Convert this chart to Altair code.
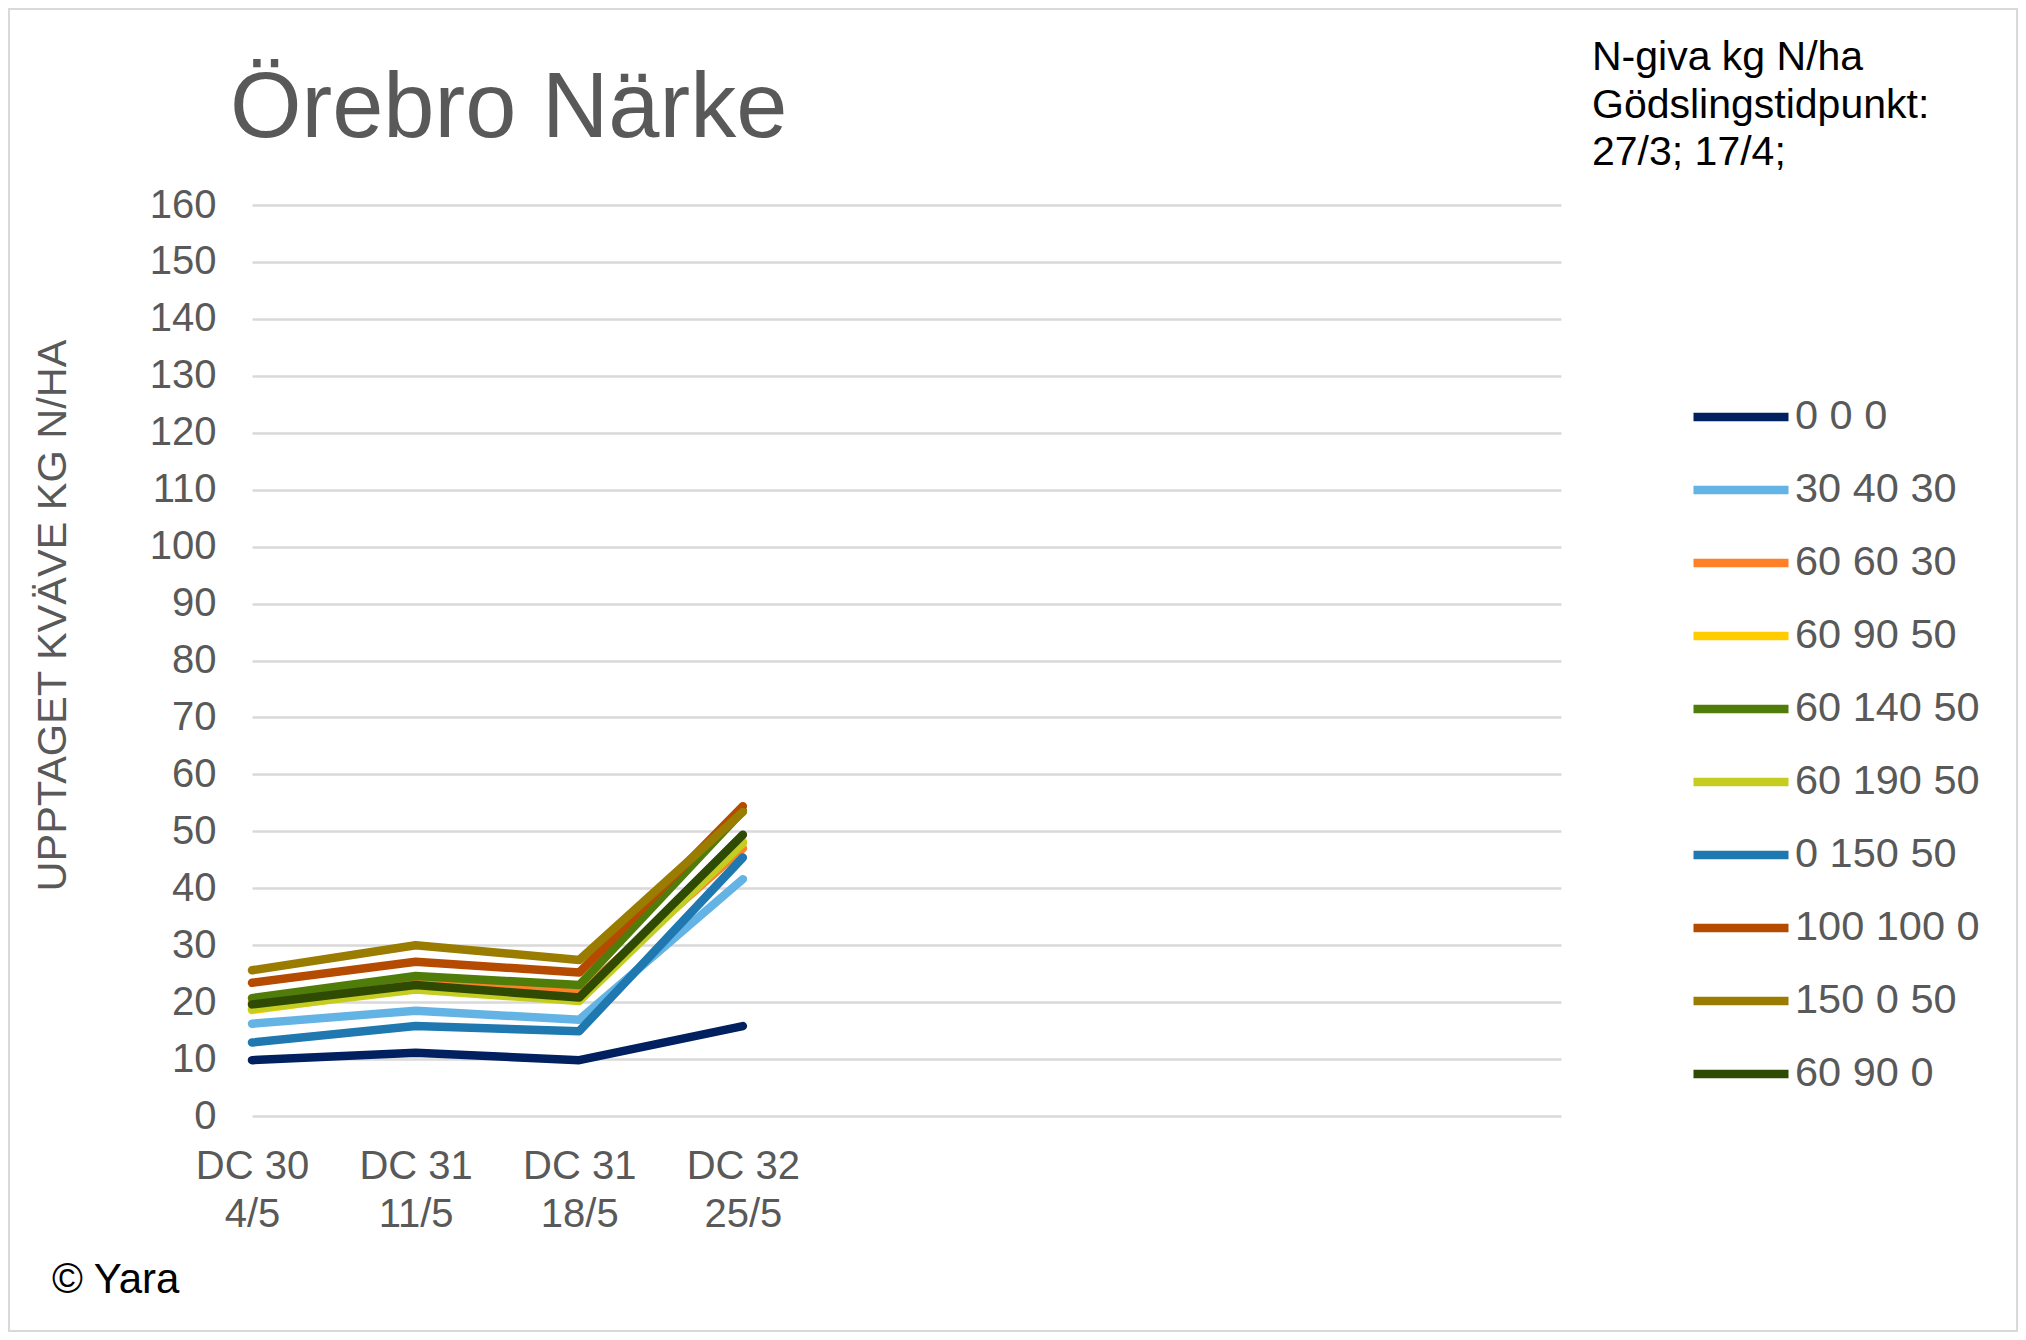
import altair as alt
import pandas as pd

# ---- data ----
categories = ["DC 30|4/5", "DC 31|11/5", "DC 31|18/5", "DC 32|25/5"]
empty_slots = ["_5", "_6", "_7", "_8", "_9"]
series_names = ["0 0 0", "30 40 30", "60 60 30", "60 90 50", "60 140 50",
                "60 190 50", "0 150 50", "100 100 0", "150 0 50", "60 90 0"]
colors = ["#002060", "#63B4E4", "#FF8027", "#FFCC00", "#507D0A",
          "#C5CD20", "#1F78B0", "#B44B00", "#9A7C00", "#2F4A03"]

s_000 = [9.8, 11.1, 9.8, 15.8]
s_304030 = [16.2, 18.5, 16.9, 41.6]
s_606030 = [20.0, 23.4, 21.6, 47.0]
s_609050 = [18.6, 22.5, 20.4, 48.2]
s_6014050 = [20.7, 24.6, 23.0, 53.6]
s_6019050 = [18.8, 22.2, 20.2, 47.9]
s_015050 = [12.9, 15.8, 14.9, 45.4]
s_1001000 = [23.4, 27.1, 25.2, 54.4]
s_150050 = [25.6, 30.0, 27.4, 53.4]
s_60900 = [19.6, 23.0, 20.8, 49.4]

y_ticks = list(range(0, 161, 10))
title_text = "Örebro Närke"
y_title = "UPPTAGET KVÄVE KG N/HA"
legend_heading = "N-giva kg N/ha\nGödslingstidpunkt:\n27/3; 17/4;"
credit = "© Yara"

series_values = [s_000, s_304030, s_606030, s_609050, s_6014050,
                 s_6019050, s_015050, s_1001000, s_150050, s_60900]

rows = []
for name, vals in zip(series_names, series_values):
    for i, (c, v) in enumerate(zip(categories, vals)):
        rows.append({"series": name, "cat": c, "idx": i, "value": v})
df = pd.DataFrame(rows)

FONT = "Liberation Sans"
GREY = "#595959"
PAD = {"left": 244, "top": 197, "right": 457, "bottom": 216}
W, H = 1309, 911

lines = alt.Chart(df).mark_line(
    strokeWidth=8.5, strokeCap="round", strokeJoin="round"
).encode(
    x=alt.X(
        "cat:N",
        title=None,
        scale=alt.Scale(type="point", domain=categories + empty_slots, padding=0),
        axis=alt.Axis(
            labelExpr="indexof(datum.label, '_') == 0 ? '' : split(datum.label, '|')",
            labelAngle=0, labelFontSize=40, labelColor=GREY, labelFont=FONT,
            labelLineHeight=48, labelPadding=30, ticks=False, tickSize=0,
            domain=False, grid=False, labelOverlap=False,
        ),
    ),
    y=alt.Y(
        "value:Q",
        title=y_title,
        scale=alt.Scale(domain=[0, 160], nice=False),
        axis=alt.Axis(
            values=y_ticks, labelFontSize=40, labelColor=GREY, labelFont=FONT,
            labelPadding=36, ticks=False, tickSize=0, domain=False,
            gridColor="#D9D9D9", gridWidth=2.5,
            titleFontSize=41.5, titleColor=GREY, titleFont=FONT,
            titleFontWeight="normal", titleAngle=270, titleX=-199, titleY=410,
            titleAlign="center", titleBaseline="middle",
        ),
    ),
    color=alt.Color(
        "series:N",
        sort=series_names,
        scale=alt.Scale(domain=series_names, range=colors),
        legend=alt.Legend(
            title=None, orient="none", legendX=1437, legendY=160,
            direction="vertical", symbolType="stroke", symbolSize=9025,
            symbolStrokeWidth=8.5, labelFontSize=41.5, labelColor=GREY,
            labelFont=FONT, labelOffset=2, rowPadding=-24, padding=0,
            labelLimit=400,
        ),
    ),
    order="idx:Q",
)

frame = alt.Chart(pd.DataFrame({"f": [0]})).mark_rect(
    fill="transparent", stroke="#D9D9D9", strokeWidth=2
).encode(
    x=alt.value(-PAD["left"] + 1), x2=alt.value(W + PAD["right"] - 1),
    y=alt.value(-PAD["top"] + 1), y2=alt.value(H + PAD["bottom"] - 1),
)

title_mark = alt.Chart(pd.DataFrame({"t": [title_text]})).mark_text(
    fontSize=92, font=FONT, color=GREY, align="left", baseline="alphabetic"
).encode(text="t:N", x=alt.value(-22), y=alt.value(-68))

heading_mark = alt.Chart(pd.DataFrame({"t": [legend_heading]})).mark_text(
    fontSize=41, font=FONT, color="#000000", align="left", baseline="alphabetic",
    lineBreak="\n", lineHeight=47.5,
).encode(text="t:N", x=alt.value(1340), y=alt.value(-135))

credit_mark = alt.Chart(pd.DataFrame({"t": [credit]})).mark_text(
    fontSize=42, font=FONT, color="#000000", align="left", baseline="alphabetic"
).encode(text="t:N", x=alt.value(-200), y=alt.value(1088))

chart = alt.layer(frame, lines, title_mark, heading_mark, credit_mark).properties(
    width=W, height=H,
    autosize=alt.AutoSizeParams(type="none"),
    padding=PAD,
    background="white",
).configure_view(stroke="transparent")

chart.save("out.html", embed_options={"renderer": "svg", "actions": False})
